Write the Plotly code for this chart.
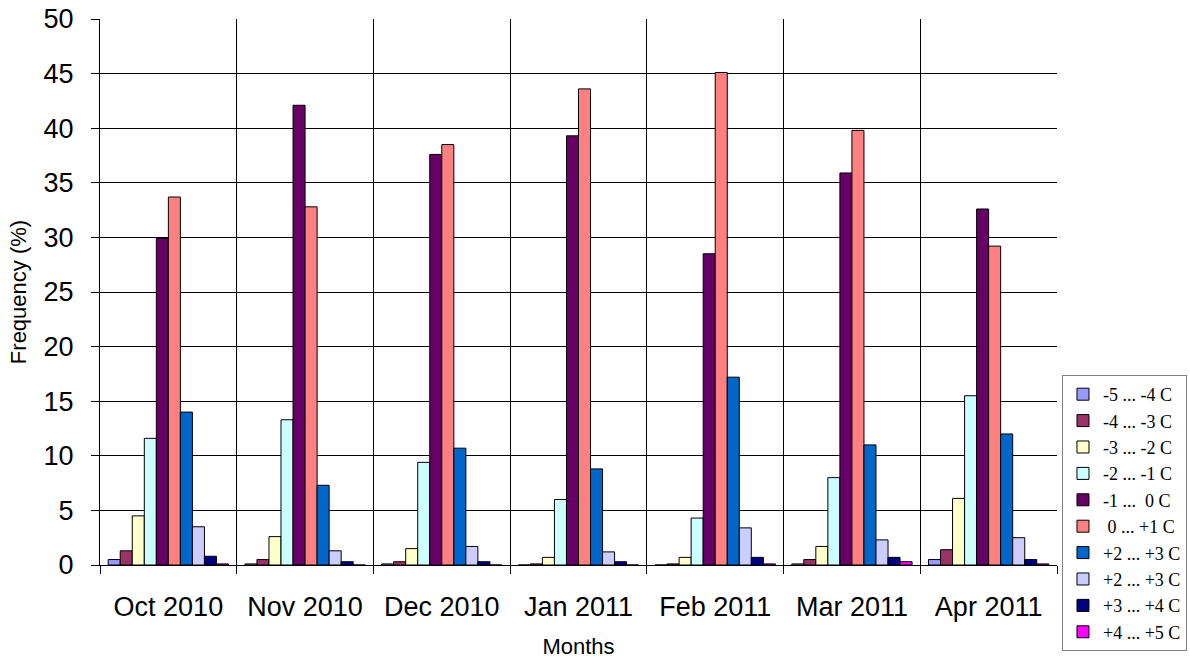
import plotly.graph_objects as go

# Monthly categories
months = ["Oct 2010", "Nov 2010", "Dec 2010", "Jan 2011", "Feb 2011", "Mar 2011", "Apr 2011"]

# Frequency (%) of each temperature class per month
t_m5_m4 = [0.5, 0.1, 0.1, 0.0, 0.0, 0.1, 0.5]
t_m4_m3 = [1.3, 0.5, 0.3, 0.1, 0.1, 0.5, 1.4]
t_m3_m2 = [4.5, 2.6, 1.5, 0.7, 0.7, 1.7, 6.1]
t_m2_m1 = [11.6, 13.3, 9.4, 6.0, 4.3, 8.0, 15.5]
t_m1_0 = [29.9, 42.1, 37.6, 39.3, 28.5, 35.9, 32.6]
t_0_p1 = [33.7, 32.8, 38.5, 43.6, 45.1, 39.8, 29.2]
t_p2_p3a = [14.0, 7.3, 10.7, 8.8, 17.2, 11.0, 12.0]
t_p2_p3b = [3.5, 1.3, 1.7, 1.2, 3.4, 2.3, 2.5]
t_p3_p4 = [0.8, 0.3, 0.3, 0.3, 0.7, 0.7, 0.5]
t_p4_p5 = [0.1, 0.0, 0.0, 0.0, 0.1, 0.3, 0.1]

NB = "\u00a0"
series_names = [
    "-5 ... -4 C",
    "-4 ... -3 C",
    "-3 ... -2 C",
    "-2 ... -1 C",
    "-1 ..." + NB + NB + "0 C",
    NB + "0 ... +1 C",
    "+2 ... +3 C",
    "+2 ... +3 C",
    "+3 ... +4 C",
    "+4 ... +5 C",
]
series_values = [t_m5_m4, t_m4_m3, t_m3_m2, t_m2_m1, t_m1_0,
                 t_0_p1, t_p2_p3a, t_p2_p3b, t_p3_p4, t_p4_p5]
series_colors = ["#9999FF", "#993366", "#FFFFCC", "#CCFFFF", "#660066",
                 "#FF8080", "#0066CC", "#CCCCFF", "#000080", "#FF00FF"]

fig = go.Figure()
for name, vals, col in zip(series_names, series_values, series_colors):
    fig.add_trace(go.Bar(
        x=months, y=vals, name=name,
        marker=dict(color=col, line=dict(color="#000000", width=1)),
    ))

sans = "Arial, Liberation Sans, sans-serif"
fig.update_layout(
    width=1190, height=659,
    margin=dict(l=100, r=133, t=19, b=94, autoexpand=False),
    paper_bgcolor="white", plot_bgcolor="white",
    barmode="group", bargap=0.12, bargroupgap=0,
    font=dict(family=sans, color="#000000"),
    xaxis=dict(
        type="category", tickson="boundaries",
        showgrid=True, gridcolor="#000000", gridwidth=1,
        ticks="outside", ticklen=8, tickcolor="#000000",
        showline=True, linecolor="#000000",
        tickfont=dict(size=27, family=sans),
        ticklabelstandoff=18,
        title=dict(text="Months", font=dict(size=22, family=sans), standoff=19),
    ),
    yaxis=dict(
        range=[0, 50], dtick=5,
        showgrid=True, gridcolor="#000000", gridwidth=1,
        ticks="outside", ticklen=8, tickcolor="#000000",
        showline=True, linecolor="#000000",
        zeroline=False,
        tickfont=dict(size=27, family=sans),
        ticklabelstandoff=12,
        title=dict(text="Frequency (%)", font=dict(size=22, family=sans), standoff=10),
    ),
    legend=dict(
        x=1.0052, y=0.348, xanchor="left", yanchor="top",
        bordercolor="#808080", borderwidth=1, bgcolor="white",
        font=dict(family="Times New Roman, Liberation Serif, serif", size=18, color="#000000"),
        tracegroupgap=0,
    ),
)

fig.write_html("out.html")
